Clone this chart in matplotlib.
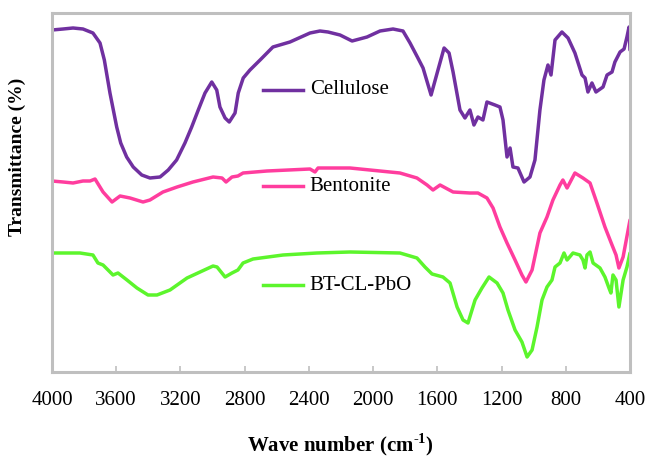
import matplotlib
matplotlib.use("Agg")
import matplotlib.pyplot as plt

plt.rcParams['font.family'] = ['Liberation Serif', 'DejaVu Serif']
plt.rcParams['mathtext.fontset'] = 'custom'
plt.rcParams['mathtext.rm'] = 'Liberation Serif'
plt.rcParams['mathtext.bf'] = 'Liberation Serif:bold'

# wavenumber (cm-1) and transmittance (arbitrary units, offset spectra)
cell_x = [4000, 3931, 3869, 3807, 3745, 3701, 3674, 3656, 3639, 3618, 3597, 3572, 3535, 3494,
          3441, 3390, 3327, 3276, 3224, 3172, 3130, 3089, 3047, 3005, 2974, 2954, 2922, 2896,
          2860, 2840, 2809, 2767, 2704, 2624, 2518, 2393, 2331, 2281, 2206, 2131, 2038,
          1957, 1876, 1814, 1770, 1721, 1689, 1639, 1596, 1558, 1527, 1502, 1459, 1428, 1397,
          1372, 1347, 1316, 1291, 1241, 1210, 1191, 1166, 1147, 1129, 1098, 1060, 1023, 992,
          961, 936, 911, 892, 867, 824, 786, 743, 699, 680, 662, 637, 612, 568, 543, 512, 494,
          462, 437, 419, 406, 400]
cell_y = [342, 343, 344, 343, 339, 329, 312, 295, 279, 262, 245, 229, 215, 205,
          197, 194, 195, 202, 212, 229, 245, 262, 279, 290, 282, 265, 254, 250,
          259, 279, 294, 302, 312, 325, 330, 339, 341, 340, 337, 331, 335,
          341, 343, 341, 329, 314, 304, 277, 302, 324, 319, 300, 262, 254, 262,
          247, 255, 252, 270, 267, 265, 252, 215, 224, 205, 204, 190, 195, 212,
          262, 292, 307, 297, 332, 340, 334, 319, 297, 294, 280, 289, 280, 285, 297, 300, 310,
          320, 323, 335, 345, 322]

bent_x = [4000, 3931, 3869, 3807, 3763, 3732, 3682, 3626, 3576, 3514, 3433, 3390, 3309, 3221,
          3122, 2997, 2941, 2916, 2879, 2842, 2810, 2661, 2393, 2362, 2343, 2144, 1833, 1727,
          1664, 1627, 1583, 1502, 1397, 1347, 1291, 1253, 1210, 1166, 1116, 1073, 1048, 1010,
          961, 917, 880, 836, 818, 792, 743, 693, 649, 606, 556, 512, 487, 469, 443, 400]
bent_y = [191, 190, 189, 191, 191, 193, 180, 170, 176, 174, 170, 172, 180, 185,
          190, 195, 194, 190, 195, 196, 199, 201, 203, 200, 204, 204, 199, 194,
          187, 182, 187, 180, 179, 179, 174, 164, 145, 129, 112, 97, 90, 102,
          139, 155, 172, 187, 192, 184, 199, 194, 189, 169, 145, 127, 117, 104, 115, 152]

comp_x = [4000, 3826, 3745, 3714, 3682, 3620, 3589, 3533, 3471, 3402, 3346, 3265, 3159, 3078,
          2997, 2972, 2922, 2879, 2842, 2810, 2748, 2561, 2350, 2144, 1833, 1727, 1677, 1633,
          1565, 1521, 1477, 1440, 1409, 1365, 1322, 1278, 1228, 1191, 1160, 1116, 1073, 1041,
          1010, 979, 948, 917, 886, 867, 836, 811, 792, 755, 712, 693, 680, 668, 649, 630,
          587, 556, 531, 519, 506, 487, 469, 443, 419, 400]
comp_y = [119, 119, 117, 109, 107, 97, 99, 92, 84, 77, 77, 82, 94, 100,
          106, 105, 95, 99, 102, 109, 113, 117, 119, 120, 119, 114, 105, 98,
          95, 89, 65, 52, 49, 72, 84, 95, 89, 79, 62, 42, 30, 15,
          22, 45, 72, 85, 92, 105, 109, 119, 112, 119, 117, 112, 104, 117, 120, 109,
          104, 95, 84, 79, 97, 92, 65, 92, 105, 119]

names = ['Cellulose', 'Bentonite', 'BT-CL-PbO']
colors = ['#7030A0', '#FF3D9E', '#5CF52C']
xticks = [4000, 3600, 3200, 2800, 2400, 2000, 1600, 1200, 800, 400]

fig = plt.figure(figsize=(6.48, 4.62), dpi=100)
ax = fig.add_axes([52/648, 1-372/462, 578/648, 359/462])

series = [(cell_x, cell_y), (bent_x, bent_y), (comp_x, comp_y)]
for (xs, ys), c in zip(series, colors):
    ax.plot(xs, ys, color=c, lw=2.5, solid_joinstyle='round', solid_capstyle='round')

ax.set_xlim(4000, 400)
ax.set_ylim(0, 359)
ax.set_xticks(xticks)
ax.set_xticklabels([str(t) for t in xticks], fontsize=15)
ax.set_yticks([])
ax.tick_params(axis='x', direction='in', length=4, width=1.2, color='#BFBFBF', pad=14)
for s in ax.spines.values():
    s.set_color('#BFBFBF')
    s.set_linewidth(2.2)

# inline legend
leg_y = [0.786, 0.518, 0.242]
for name, c, yy in zip(names, colors, leg_y):
    ax.plot([0.365, 0.434], [yy, yy], color=c, lw=2.5, transform=ax.transAxes, clip_on=False)
    ax.text(0.446, yy, name, transform=ax.transAxes, fontsize=15, va='center', ha='left')

fig.text(340/648, 1-445/462, 'Wave number (cm$^{\\mathbf{\u20101}}$)', fontsize=15,
         fontweight='bold', ha='center', va='center')
fig.text(17/648, 1-157/462, 'Transmittance (%)', fontsize=14, fontweight='bold',
         rotation=90, ha='center', va='center')

fig.savefig('out.png', dpi=100)
